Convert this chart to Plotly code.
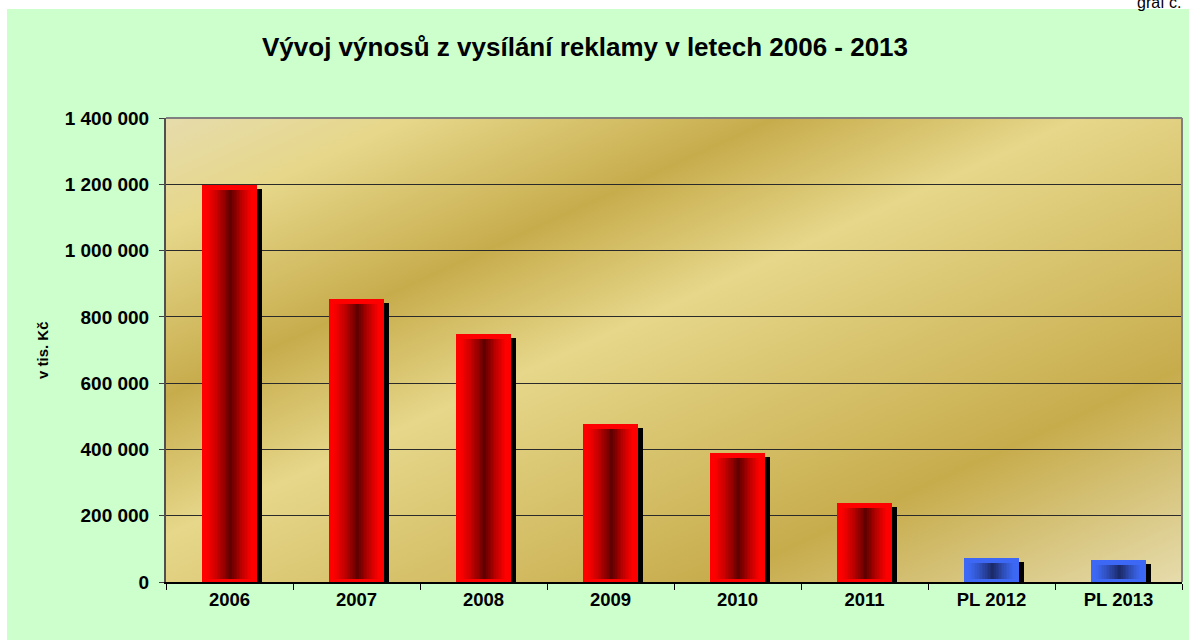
import base64
import plotly.graph_objects as go

# ---------------- data ----------------
categories = ["2006", "2007", "2008", "2009", "2010", "2011", "PL 2012", "PL 2013"]
values = [1198000, 854000, 748000, 477000, 389000, 238000, 72000, 66000]
is_plan = [False, False, False, False, False, False, True, True]
y_tickvals = [0, 200000, 400000, 600000, 800000, 1000000, 1200000, 1400000]

TITLE = "Vývoj výnosů z vysílání reklamy v letech 2006 - 2013"
Y_TITLE = "v tis. Kč"
CORNER = "graf č."

# ---------------- geometry / style ----------------
W, H = 1189, 640
M_L, M_R, M_T, M_B = 166, 7, 118, 58
PLOT_W = W - M_L - M_R
PLOT_H = H - M_T - M_B
Y_MAX = 1400000
UPP = Y_MAX / PLOT_H            # data units per pixel (vertical)
CAT_PX = PLOT_W / len(categories)
BAR_W = 0.44                    # in category units
PX = 1.0 / CAT_PX               # category units per pixel (horizontal)

FONT = "Liberation Sans, Arial, sans-serif"
GREEN = "#CCFFCC"

RED_EDGE, RED_DARK = (255, 0, 0), (92, 0, 0)
BLUE_EDGE, BLUE_DARK = (60, 104, 245), (26, 40, 100)


def mix(c1, c2, f):
    return "rgb(%d,%d,%d)" % tuple(round(a + (b - a) * f) for a, b in zip(c1, c2))


def hx(c):
    return "rgb(%d,%d,%d)" % c


fig = go.Figure()

# shadow
fig.add_trace(go.Bar(
    x=categories, y=[v - 4 * UPP for v in values],
    width=BAR_W, offset=-BAR_W / 2 + 4.5 * PX,
    marker=dict(color="black", line=dict(width=0)), hoverinfo="skip"))

# base bar
fig.add_trace(go.Bar(
    x=categories, y=values, width=BAR_W, offset=-BAR_W / 2,
    marker=dict(color=[hx(BLUE_EDGE) if p else hx(RED_EDGE) for p in is_plan],
                line=dict(width=0)),
    hoverinfo="skip"))

# cylinder shading strips
N = 30
T0, T1, TC = 0.08, 0.93, 0.53
sw = (T1 - T0) / N
for i in range(N):
    t = T0 + (i + 0.5) * sw
    if t < TC:
        f = (t - T0) / (TC - T0)
    else:
        f = (T1 - t) / (T1 - TC)
    f = max(0.0, min(1.0, f)) ** 1.3
    cols = [mix(BLUE_EDGE, BLUE_DARK, f) if p else mix(RED_EDGE, RED_DARK, f) for p in is_plan]
    fig.add_trace(go.Bar(
        x=categories,
        y=[v - 5 * UPP - 3 * UPP for v in values],
        base=[3 * UPP] * len(values),
        width=sw * BAR_W * 1.04, offset=-BAR_W / 2 + (T0 + i * sw) * BAR_W,
        marker=dict(color=cols, line=dict(width=0)), hoverinfo="skip"))

# gold gradient plot background
stops = [(0, "#E6DCAC"), (0.12, "#E6D78A"), (0.30, "#C7AC4C"),
         (0.45, "#E6D78A"), (0.77, "#C7AC4C"), (1.0, "#E6DCAC")]
svg = ('<svg xmlns="http://www.w3.org/2000/svg" width="%d" height="%d" viewBox="0 0 %d %d" '
       'preserveAspectRatio="none"><defs><linearGradient id="g" x1="0" y1="0" x2="1" y2="1">%s'
       '</linearGradient></defs><rect width="%d" height="%d" fill="url(#g)"/></svg>') % (
    PLOT_W, PLOT_H, PLOT_W, PLOT_H,
    "".join('<stop offset="%g" stop-color="%s"/>' % s for s in stops), PLOT_W, PLOT_H)
src = "data:image/svg+xml;base64," + base64.b64encode(svg.encode()).decode()


def px2x(px):
    return (px - M_L) / PLOT_W


def py2y(py):
    return (H - M_B - py) / PLOT_H


fig.update_layout(
    width=W, height=H, autosize=False,
    margin=dict(l=M_L, r=M_R, t=M_T, b=M_B, pad=0),
    paper_bgcolor=GREEN, plot_bgcolor="#DCC878",
    barmode="overlay", showlegend=False, bargap=0,
    separators=", ",
    font=dict(family=FONT, color="black"),
    images=[dict(source=src, xref="paper", yref="paper", x=0, y=1, sizex=1, sizey=1,
                 xanchor="left", yanchor="top", sizing="stretch", layer="below")],
    shapes=[
        # white strips outside the green chart area
        dict(type="rect", xref="paper", yref="paper", x0=px2x(-2), x1=px2x(7),
             y0=py2y(H + 2), y1=py2y(-2), fillcolor="white", line=dict(width=0), layer="below"),
        dict(type="rect", xref="paper", yref="paper", x0=px2x(-2), x1=px2x(W + 2),
             y0=py2y(9), y1=py2y(-2), fillcolor="white", line=dict(width=0), layer="below"),
        # plot border (top/right)
        dict(type="line", xref="paper", yref="paper", x0=0, x1=1, y0=1, y1=1,
             line=dict(color="#808080", width=2)),
        dict(type="line", xref="paper", yref="paper", x0=1, x1=1, y0=0, y1=1,
             line=dict(color="#808080", width=2)),
    ],
    annotations=[
        dict(text=TITLE, xref="paper", yref="paper", x=px2x(585), y=py2y(47),
             xanchor="center", yanchor="middle", showarrow=False,
             font=dict(family=FONT, size=26, weight="bold", color="black")),
        dict(text=Y_TITLE, xref="paper", yref="paper", x=px2x(42), y=py2y(350),
             xanchor="center", yanchor="middle", showarrow=False, textangle=-90,
             font=dict(family=FONT, size=15, weight="bold", color="black")),
        dict(text=CORNER, xref="paper", yref="paper", x=px2x(1183), y=py2y(2.5),
             xanchor="right", yanchor="middle", showarrow=False,
             font=dict(family=FONT, size=16, color="black")),
    ],
)

fig.update_xaxes(
    type="category", range=[-0.5, len(categories) - 0.5],
    showline=True, linecolor="black", linewidth=1.5,
    ticks="outside", tickson="boundaries", ticklen=6, tickcolor="black", tickwidth=1,
    showgrid=False, zeroline=False,
    tickfont=dict(family=FONT, size=18.5, weight="bold", color="black"),
)
fig.update_yaxes(
    range=[0, Y_MAX], tickvals=y_tickvals, tickformat=",d",
    showline=True, linecolor="#505050", linewidth=2,
    ticks="outside", ticklen=5, tickcolor="#404040", tickwidth=1,
    showgrid=True, gridcolor="#2a2a2a", gridwidth=1, zeroline=False,
    ticklabelstandoff=6,
    tickfont=dict(family=FONT, size=19, weight="bold", color="black"),
)

fig.write_html("out.html", config={"displayModeBar": False},
               post_script="document.body.style.margin='0px';document.body.style.padding='0px';")
